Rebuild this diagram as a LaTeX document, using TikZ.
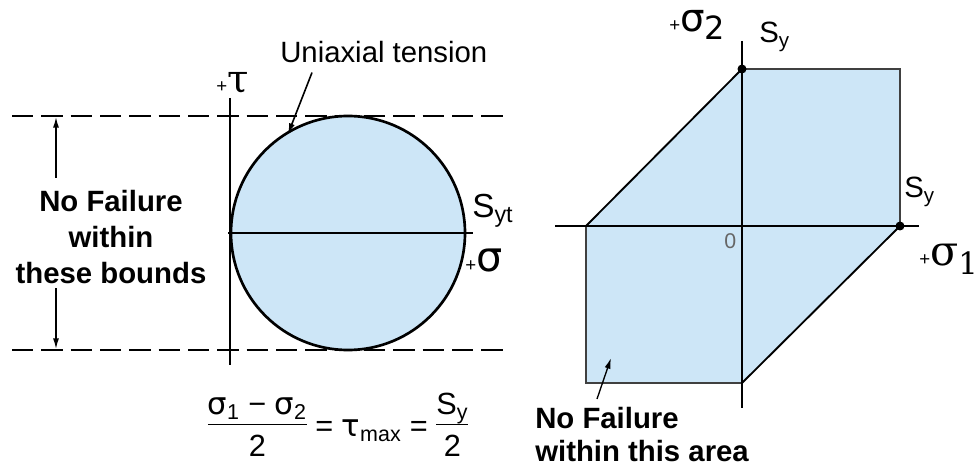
\documentclass[tikz,border=0pt]{standalone}
\usepackage{fontspec}
\setmainfont{Liberation Sans}
\newfontfamily\sansgreek{DejaVu Sans}
\newfontfamily\serifgreek{DejaVu Serif}
\usetikzlibrary{arrows.meta}
\definecolor{areablue}{HTML}{CDE6F7}
\newcommand\plusmark{{\fontsize{14}{14}\selectfont+}}
\newcommand\barfrac[2]{\begin{tabular}{@{}c@{}}#1\\[-1pt]\hline\rule{0pt}{23pt}#2\end{tabular}}
\setlength\arrayrulewidth{1.1pt}
\begin{document}
\begin{tikzpicture}[x=0.75pt,y=-0.75pt,
  bounds/.style={line width=2.2pt,dash pattern=on 16pt off 6pt},
  axisline/.style={line width=1.3pt},
  edge/.style={line width=1pt,black!75},
  pointer/.style={line width=1.2pt,-{Latex[length=8pt,width=4.5pt]}},
  note/.style={font=\fontsize{22}{27}\selectfont\bfseries,inner sep=0pt},
  lbl/.style={inner sep=0pt,anchor=base west}]
  \useasboundingbox (0,0) rectangle (977,470);
  % Mohr circle with shear bounds
  \draw[bounds] (12,116) -- (510,116);
  \draw[bounds] (12,350) -- (510,350);
  \draw[line width=2pt,fill=areablue] (348,233) circle (117);
  \draw[axisline] (228,233) -- (473,233);
  \draw[axisline] (230,98) -- (230,365);
  \node[lbl] (tau) at (216,93) {\plusmark\serifgreek\fontsize{29}{29}\selectfont τ};
  \node[lbl] (sig) at (465,272) {\plusmark\sansgreek\fontsize{31}{31}\selectfont σ};
  \node[lbl] (syt) at (472,218) {\fontsize{25}{25}\selectfont S\textsubscript{yt}};
  \node[lbl,font=\fontsize{22}{22}\selectfont] (uni) at (280,63) {Uniaxial tension};
  \coordinate (touch) at (288,134);
  \draw[pointer] ([shift={(32,9)}]uni.south west) -- (touch);
  \node[note,align=center,anchor=north] (bounds) at (111,190) {No Failure\\within\\these bounds};
  \coordinate (upper) at (56,117);
  \coordinate (lower) at (56,349);
  \draw[pointer,line width=1pt] (bounds.north -| upper) ++(0,-12) -- (upper);
  \draw[pointer,line width=1pt] (bounds.south -| lower) ++(0,4) -- (lower);
  \node[font=\fontsize{23}{27}\selectfont,inner sep=0pt] (law) at (338,428)
    {\barfrac{{\sansgreek σ}\textsubscript{1} − {\sansgreek σ}\textsubscript{2}}{2}
      = {\sansgreek τ}\textsubscript{max} = \barfrac{S\textsubscript{y}}{2}};
  % principal stress plane
  \fill[areablue] (742,69) -- (900,69) -- (900,226) -- (742,383) -- (586,383) -- (586,226) -- cycle;
  \draw[edge] (742,69) -- (900,69) -- (900,226);
  \draw[edge] (742,383) -- (586,383) -- (586,226);
  \draw[line width=1.4pt] (586,226) -- (742,69);
  \draw[line width=1.4pt] (900,226) -- (742,383);
  \draw[axisline] (555,226) -- (919,226);
  \draw[axisline] (742,41) -- (742,408);
  \fill (742,69) circle (4.5);
  \fill (900,226) circle (4.5);
  \node[lbl] (s2) at (669,32) {\plusmark\sansgreek\fontsize{29}{29}\selectfont σ\raisebox{-6pt}{\fontsize{24}{24}\selectfont 2}};
  \node[lbl] (s1) at (919,265) {\plusmark\serifgreek\fontsize{31}{31}\selectfont σ\raisebox{-7pt}{\fontsize{23}{23}\selectfont 1}};
  \node[lbl] (sytop) at (759,43) {\fontsize{22}{22}\selectfont S\textsubscript{y}};
  \node[lbl] (syright) at (904,198) {\fontsize{22}{22}\selectfont S\textsubscript{y}};
  \node[lbl,text=black!60,font=\fontsize{16}{16}\selectfont] (orig) at (724,248) {0};
  \node[note,align=left,anchor=north west,font=\fontsize{22}{25}\selectfont\bfseries] (area) at (535,407) {No Failure\\within this area};
  \coordinate (inside) at (611,358);
  \draw[pointer,line width=1pt] ([shift={(62,-8)}]area.north west) -- (inside);
\end{tikzpicture}
\end{document}
